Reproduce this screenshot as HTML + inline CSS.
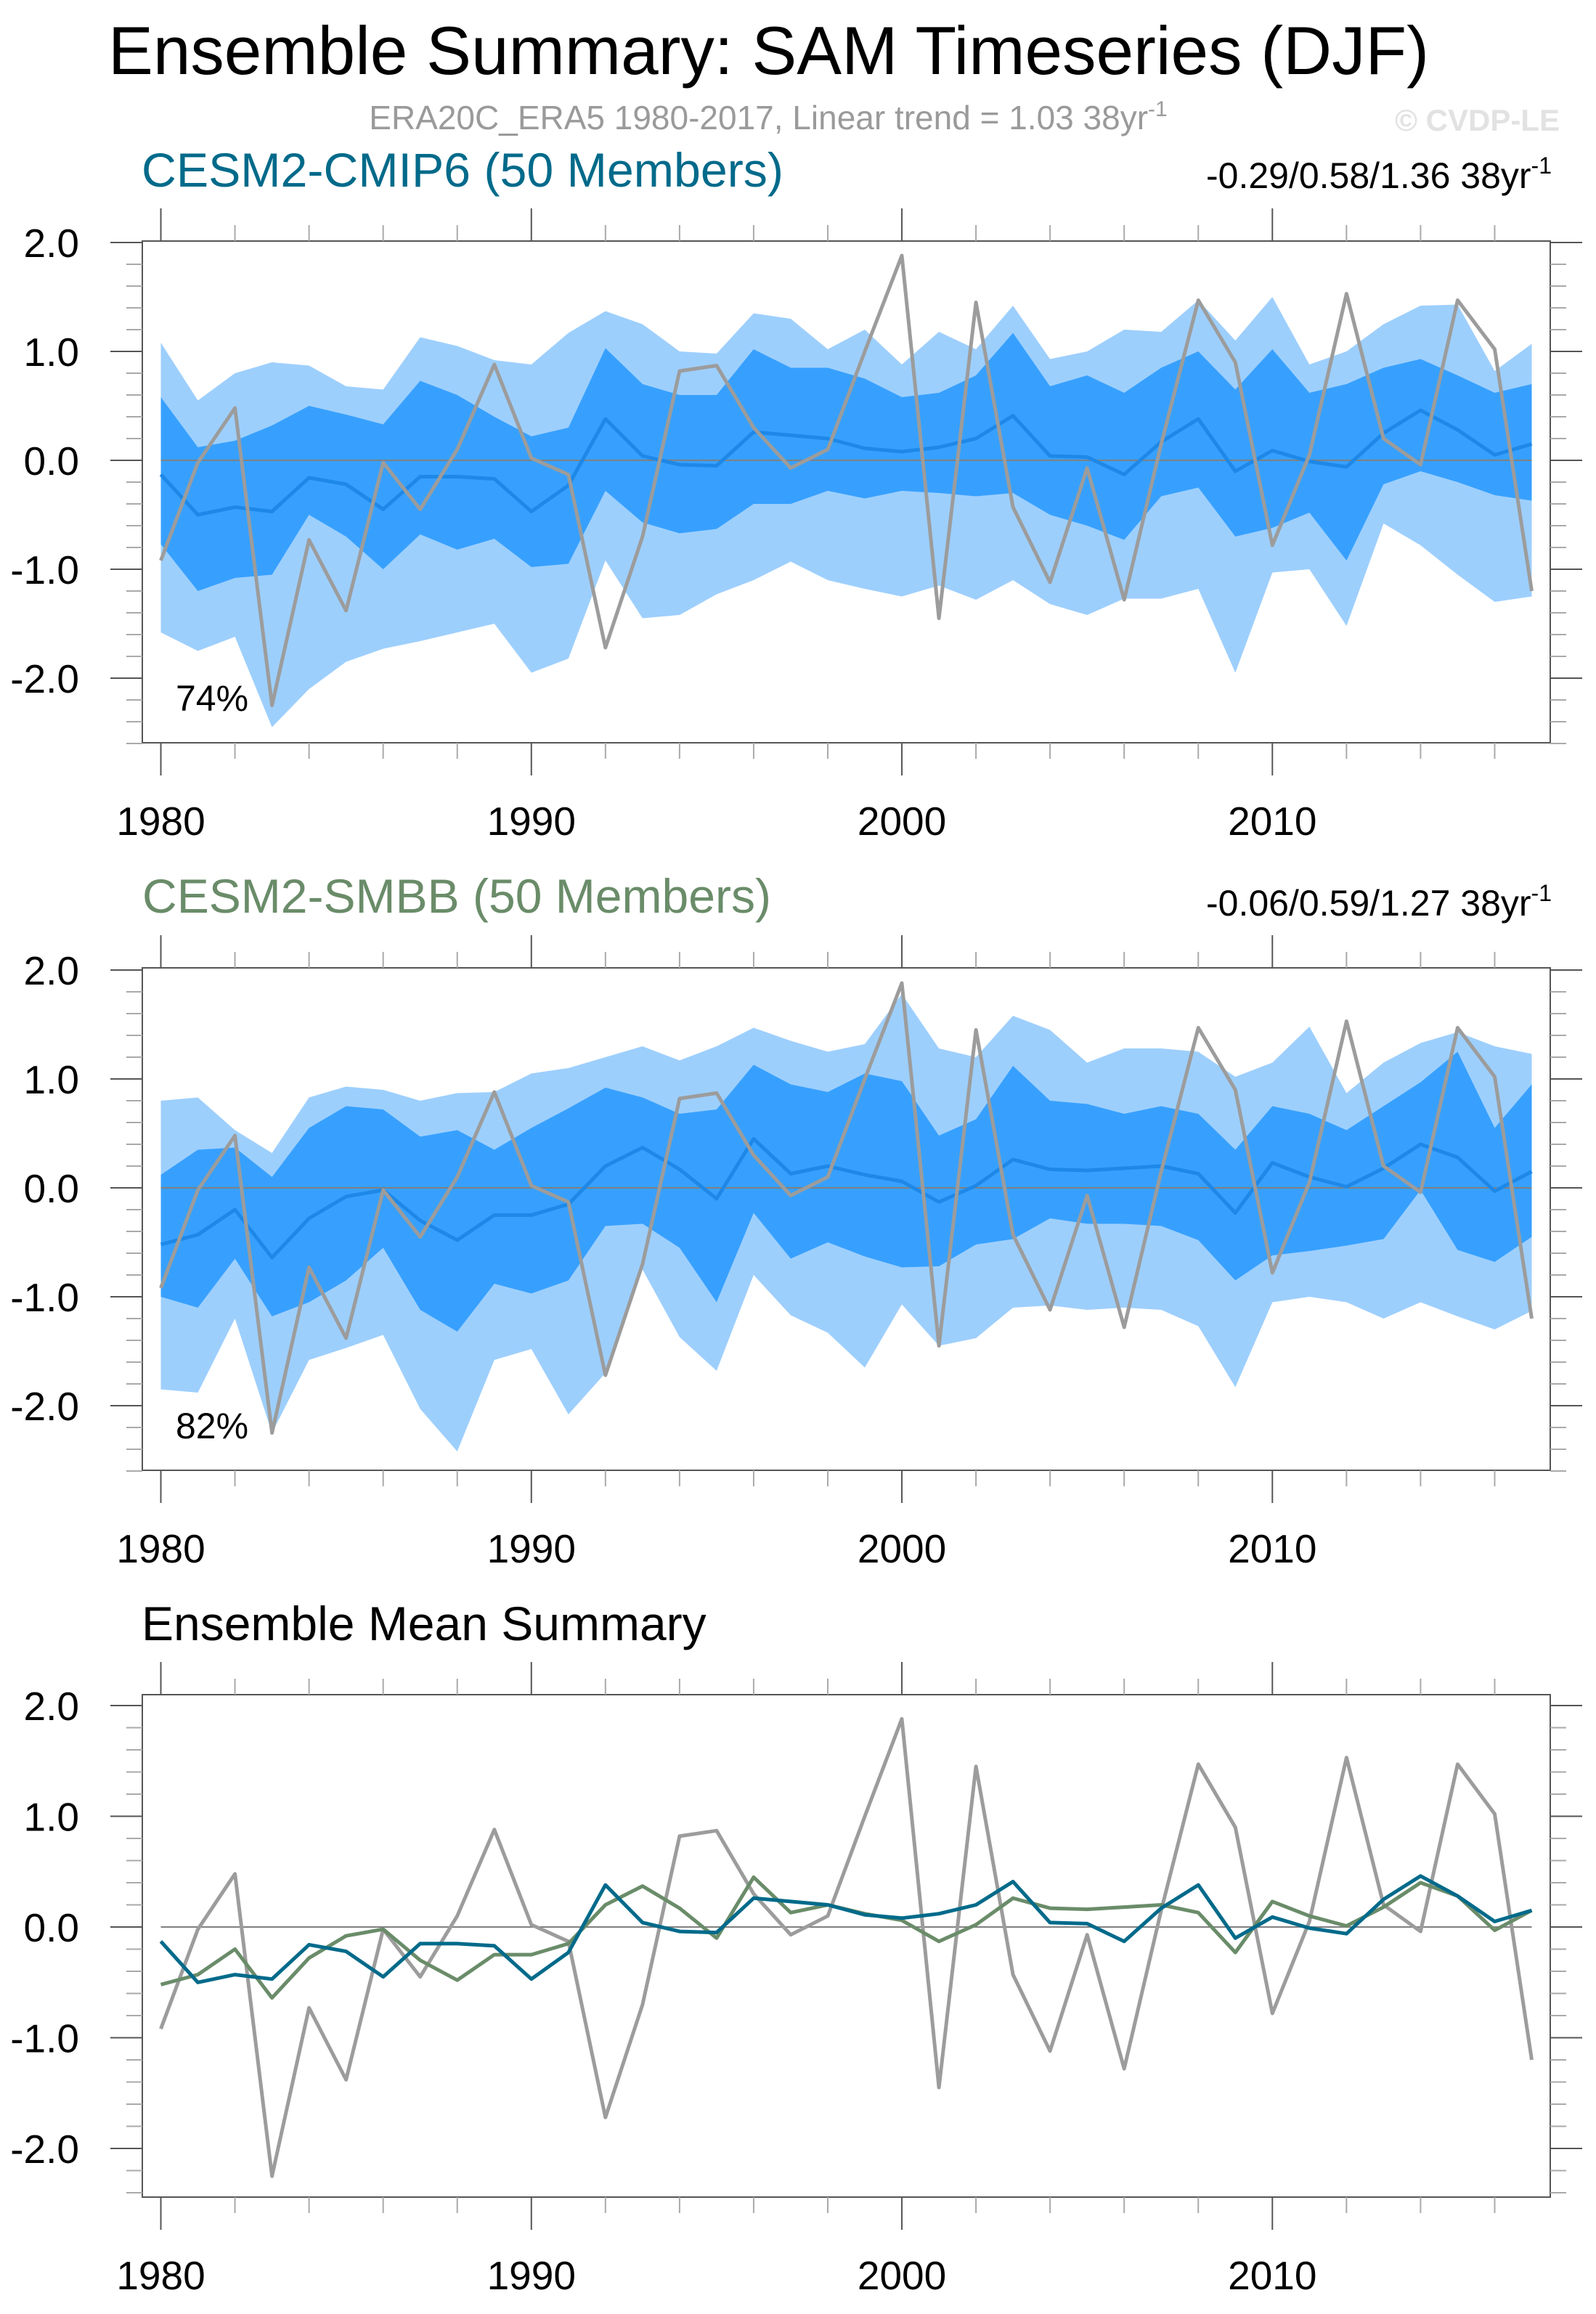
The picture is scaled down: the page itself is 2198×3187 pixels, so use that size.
<!DOCTYPE html>
<html><head><meta charset="utf-8">
<style>
html,body{margin:0;padding:0;background:#fff;}
svg{display:block;font-family:"Liberation Sans",Arial,sans-serif;}
</style></head>
<body>
<svg id="chart" width="2198" height="3187" viewBox="0 0 2198 3187" xmlns="http://www.w3.org/2000/svg">
<rect width="2198" height="3187" fill="#fff"/>
<text x="149" y="102" font-size="94" textLength="1819" lengthAdjust="spacingAndGlyphs" fill="#000">Ensemble Summary: SAM Timeseries (DJF)</text>
<text x="1058" y="178" font-size="46" text-anchor="middle" fill="#9a9a9a">ERA20C_ERA5 1980-2017, Linear trend = 1.03 38yr<tspan dy="-18" font-size="30">-1</tspan></text>
<text x="2148" y="180" font-size="42" font-weight="bold" text-anchor="end" fill="#e2e2e2">© CVDP-LE</text>
<text x="195" y="257" font-size="66" textLength="884" lengthAdjust="spacingAndGlyphs" fill="#006a8a">CESM2-CMIP6 (50 Members)</text>
<text x="2137" y="259" font-size="50" text-anchor="end" fill="#000">-0.29/0.58/1.36 38yr<tspan dy="-20" font-size="32">-1</tspan></text>
<text x="196" y="1257" font-size="66" textLength="866" lengthAdjust="spacingAndGlyphs" fill="#6a8c69">CESM2-SMBB (50 Members)</text>
<text x="2137" y="1261" font-size="50" text-anchor="end" fill="#000">-0.06/0.59/1.27 38yr<tspan dy="-20" font-size="32">-1</tspan></text>
<text x="195" y="2259" font-size="66" fill="#000">Ensemble Mean Summary</text>
</svg>
<script>
const years = [];
for (let y = 1980; y <= 2017; y++) years.push(y);
const xTickLabels = ["1980","1990","2000","2010"];
const yTickLabels = ["-2.0","-1.0","0.0","1.0","2.0"];
const obs = [-0.92,-0.02,0.48,-2.25,-0.73,-1.38,-0.02,-0.45,0.1,0.88,0.02,-0.13,-1.72,-0.7,0.82,0.87,0.3,-0.07,0.1,1.0,1.88,-1.45,1.45,-0.43,-1.12,-0.07,-1.28,0.15,1.47,0.9,-0.78,0.05,1.53,0.2,-0.04,1.47,1.02,-1.2];
const cmipMean = [-0.13,-0.5,-0.43,-0.47,-0.16,-0.22,-0.45,-0.15,-0.15,-0.17,-0.47,-0.23,0.38,0.04,-0.04,-0.05,0.26,0.23,0.2,0.11,0.08,0.12,0.2,0.41,0.04,0.03,-0.13,0.17,0.38,-0.1,0.09,-0.01,-0.06,0.25,0.46,0.28,0.05,0.15];
const smbbMean = [-0.52,-0.43,-0.2,-0.64,-0.28,-0.08,-0.02,-0.3,-0.48,-0.25,-0.25,-0.15,0.2,0.37,0.17,-0.1,0.45,0.13,0.2,0.12,0.06,-0.13,0.02,0.26,0.17,0.16,0.18,0.2,0.13,-0.23,0.23,0.1,0.01,0.18,0.4,0.28,-0.03,0.15];
const cmipOuterHi = [1.08,0.55,0.8,0.9,0.87,0.68,0.65,1.13,1.05,0.92,0.88,1.17,1.37,1.25,1.0,0.98,1.35,1.3,1.02,1.2,0.88,1.18,1.02,1.42,0.93,1.0,1.2,1.18,1.47,1.1,1.5,0.88,1.0,1.25,1.42,1.43,0.82,1.07];
const cmipOuterLo = [-1.58,-1.75,-1.62,-2.45,-2.1,-1.85,-1.73,-1.66,-1.58,-1.5,-1.95,-1.82,-0.92,-1.45,-1.42,-1.23,-1.1,-0.93,-1.1,-1.18,-1.25,-1.15,-1.28,-1.1,-1.32,-1.42,-1.27,-1.27,-1.18,-1.95,-1.03,-1.0,-1.52,-0.58,-0.78,-1.05,-1.3,-1.25];
const cmipInnerHi = [0.58,0.12,0.18,0.32,0.5,0.42,0.33,0.73,0.6,0.4,0.22,0.3,1.03,0.7,0.6,0.6,1.02,0.85,0.85,0.75,0.58,0.62,0.78,1.17,0.68,0.78,0.62,0.85,1.0,0.65,1.02,0.62,0.7,0.85,0.93,0.78,0.62,0.7];
const cmipInnerLo = [-0.77,-1.2,-1.08,-1.05,-0.5,-0.7,-1.0,-0.68,-0.82,-0.72,-0.98,-0.95,-0.28,-0.57,-0.67,-0.63,-0.4,-0.4,-0.28,-0.35,-0.28,-0.3,-0.33,-0.3,-0.5,-0.6,-0.73,-0.33,-0.25,-0.7,-0.62,-0.48,-0.92,-0.22,-0.1,-0.2,-0.32,-0.37];
const smbbOuterHi = [0.8,0.83,0.53,0.32,0.83,0.93,0.9,0.8,0.87,0.88,1.05,1.1,1.2,1.3,1.17,1.3,1.47,1.35,1.25,1.32,1.78,1.28,1.2,1.58,1.45,1.15,1.28,1.28,1.25,1.02,1.15,1.48,0.87,1.15,1.33,1.43,1.3,1.23];
const smbbOuterLo = [-1.85,-1.88,-1.2,-2.25,-1.58,-1.47,-1.35,-2.03,-2.42,-1.58,-1.48,-2.08,-1.7,-0.75,-1.37,-1.68,-0.8,-1.17,-1.33,-1.65,-1.07,-1.45,-1.38,-1.1,-1.08,-1.12,-1.1,-1.12,-1.27,-1.83,-1.05,-1.0,-1.05,-1.2,-1.05,-1.18,-1.3,-1.13];
const smbbInnerHi = [0.12,0.35,0.37,0.1,0.55,0.75,0.72,0.47,0.53,0.35,0.55,0.73,0.92,0.83,0.68,0.72,1.13,0.95,0.88,1.05,0.98,0.48,0.63,1.12,0.8,0.77,0.68,0.75,0.68,0.35,0.75,0.68,0.53,0.75,0.97,1.25,0.55,0.95];
const smbbInnerLo = [-1.0,-1.1,-0.65,-1.18,-1.05,-0.85,-0.55,-1.12,-1.32,-0.88,-0.97,-0.85,-0.35,-0.33,-0.55,-1.05,-0.23,-0.65,-0.5,-0.63,-0.73,-0.72,-0.52,-0.47,-0.28,-0.33,-0.33,-0.35,-0.48,-0.85,-0.62,-0.58,-0.53,-0.47,-0.02,-0.57,-0.68,-0.45];

const NS = "http://www.w3.org/2000/svg";
const svg = document.getElementById("chart");
const X0 = 196, X1 = 2135, YR0 = 1979.5, YR1 = 2017.5;
function xs(yr){ return X0 + (yr - YR0) / (YR1 - YR0) * (X1 - X0); }
function mk(tag, attrs, parent){
  const e = document.createElementNS(NS, tag);
  for (const k in attrs) e.setAttribute(k, attrs[k]);
  (parent || svg).appendChild(e);
  return e;
}
function panel(cfg){
  const g = mk("g", {});
  
  
  const ys = v => cfg.y0 - v * cfg.unit;
  function band(hi, lo, color, nm){
    let d = "";
    years.forEach((yr,i)=>{ d += (i?"L":"M") + xs(yr).toFixed(1) + "," + ys(hi[i]).toFixed(1); });
    for (let i = years.length-1; i >= 0; i--) d += "L" + xs(years[i]).toFixed(1) + "," + ys(lo[i]).toFixed(1);
    const p = mk("path", {d: d + "Z", fill: color}, g);
    
    
  }
  if (cfg.bands) {
    band(cfg.bands[0], cfg.bands[1], "#9dcffd", cfg.prefix + "-outer-band");
    band(cfg.bands[2], cfg.bands[3], "#37a0fe", cfg.prefix + "-inner-band");
  }
  const zl = mk("line", {x1: xs(1980), x2: xs(2017), y1: ys(0), y2: ys(0), stroke: "#808080", "stroke-width": 2}, g);
  
  
  function line(vals, color, nm){
    const pts = years.map((yr,i)=> xs(yr).toFixed(1) + "," + ys(vals[i]).toFixed(1)).join(" ");
    const l = mk("polyline", {points: pts, fill: "none", stroke: color, "stroke-width": 5, "stroke-linejoin": "round"}, g);
    
    
  }
  cfg.lines.forEach(L => line(L[0], L[1], L[2]));
  const fr = mk("rect", {x: X0, y: cfg.top, width: X1 - X0, height: cfg.bottom - cfg.top, fill: "none", stroke: "#555", "stroke-width": 2}, g);
  
  
  for (let k = -30; k <= 30; k++) {
    const v = k / 5;
    const y = ys(v);
    if (y < cfg.top - 4 || y > cfg.bottom + 1) continue;
    const major = (k % 5 === 0);
    const len = major ? 44 : 22;
    const col = major ? "#555" : "#aaa";
    mk("line", {x1: X0 - len, x2: X0, y1: y, y2: y, stroke: col, "stroke-width": 2}, g);
    mk("line", {x1: X1, x2: X1 + len, y1: y, y2: y, stroke: col, "stroke-width": 2}, g);
  }
  yTickLabels.forEach(lbl => {
    const t = mk("text", {x: 109, y: ys(parseFloat(lbl)) + 20, "font-size": 55, "text-anchor": "end", fill: "#000"}, g);
    t.textContent = lbl;
    
    
  });
  for (let yr = 1980; yr <= 2016; yr += 2) {
    const x = xs(yr);
    const major = (yr % 10 === 0);
    const len = major ? 45 : 22;
    const col = major ? "#555" : "#aaa";
    mk("line", {x1: x, x2: x, y1: cfg.bottom, y2: cfg.bottom + len, stroke: col, "stroke-width": 2}, g);
    mk("line", {x1: x, x2: x, y1: cfg.top - len, y2: cfg.top, stroke: col, "stroke-width": 2}, g);
  }
  xTickLabels.forEach(lbl => {
    const t = mk("text", {x: xs(parseInt(lbl)), y: cfg.bottom + 127, "font-size": 55, "text-anchor": "middle", fill: "#000"}, g);
    t.textContent = lbl;
    
    
  });
  if (cfg.pct) {
    const t = mk("text", {x: 242, y: cfg.pctY, "font-size": 50, fill: "#000"}, g);
    t.textContent = cfg.pct;
    
    
  }
}
panel({name: "cmip6-panel", prefix: "cmip6", top: 332, bottom: 1023, y0: 634, unit: 150,
  bands: [cmipOuterHi, cmipOuterLo, cmipInnerHi, cmipInnerLo],
  lines: [[cmipMean, "#1e88e8", "cmip6-mean-line"], [obs, "#9c9c9c", "obs-line"]],
  pct: "74%", pctY: 979});
panel({name: "smbb-panel", prefix: "smbb", top: 1333, bottom: 2025, y0: 1636, unit: 150,
  bands: [smbbOuterHi, smbbOuterLo, smbbInnerHi, smbbInnerLo],
  lines: [[smbbMean, "#1e88e8", "smbb-mean-line"], [obs, "#9c9c9c", "obs-line"]],
  pct: "82%", pctY: 1981});
panel({name: "ensemble-mean-panel", prefix: "mean", top: 2334, bottom: 3026, y0: 2654, unit: 152.5,
  bands: null,
  lines: [[obs, "#9c9c9c", "obs-line"], [smbbMean, "#6a8c69", "smbb-mean-line"], [cmipMean, "#006a8a", "cmip6-mean-line"]]});
</script>
</body></html>
